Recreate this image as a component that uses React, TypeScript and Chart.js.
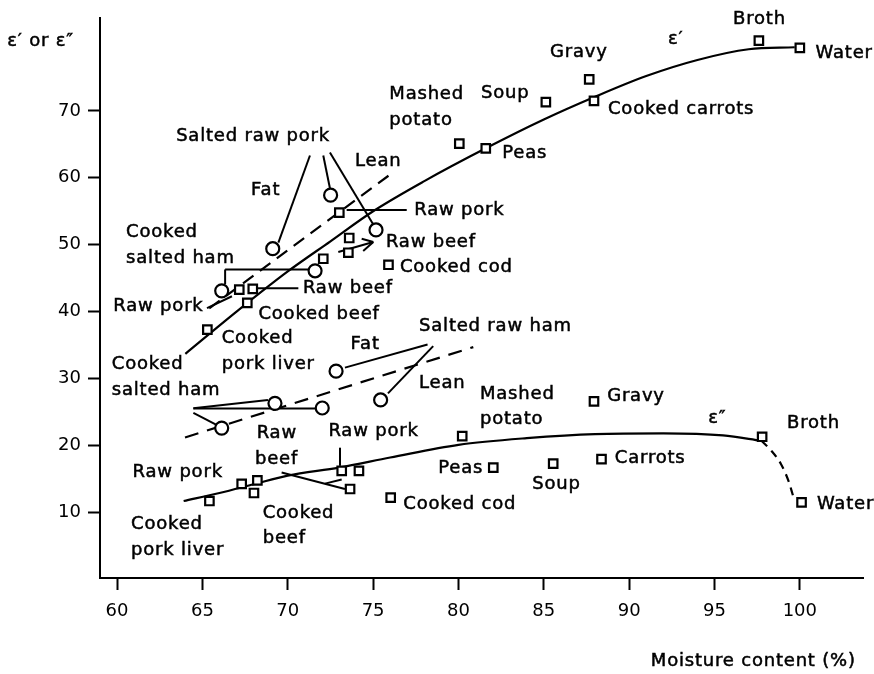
import React, { useEffect, useRef } from 'react';
import { Chart, registerables } from 'chart.js';

Chart.register(...registerables);

const FONT = '"DejaVu Sans", sans-serif';

const xTicks = [60, 65, 70, 75, 80, 85, 90, 95, 100];
const yTicks = [10, 20, 30, 40, 50, 60, 70];

// ε' — food samples (squares)
const ep1SquareX = [100.0, 97.6, 87.66, 87.94, 85.12, 80.05, 81.6, 73.02, 73.6, 73.55, 72.08, 75.9, 67.16, 67.95, 67.63, 65.29];
const ep1SquareY = [79.4, 80.5, 74.7, 71.5, 71.3, 65.1, 64.4, 54.8, 51.0, 48.8, 47.9, 47.0, 43.3, 43.4, 41.3, 37.3];
// ε' — salted samples (circles)
const ep1CircleX = [69.12, 72.51, 75.17, 71.6, 66.13];
const ep1CircleY = [49.4, 57.4, 52.2, 46.1, 43.1];

// ε'' — food samples (squares)
const ep2SquareX = [65.41, 67.3, 68.22, 68.02, 73.16, 74.17, 73.65, 76.03, 80.22, 82.04, 85.55, 87.94, 88.38, 97.79, 100.1];
const ep2SquareY = [11.7, 14.25, 14.8, 12.9, 16.2, 16.2, 13.5, 12.2, 21.4, 16.7, 17.3, 26.6, 17.95, 21.3, 11.5];
// ε'' — salted samples (circles)
const ep2CircleX = [72.83, 75.44, 69.25, 72.02, 66.13];
const ep2CircleY = [31.1, 26.8, 26.3, 25.6, 22.6];

// fitted curves
const ep1CurveX = [64.0, 67.0, 70.0, 72.5, 75.0, 78.0, 81.6, 85.0, 88.0, 91.0, 94.0, 97.0, 99.7];
const ep1CurveY = [33.7, 40.0, 46.0, 50.5, 55.0, 59.5, 64.4, 68.7, 72.1, 75.2, 77.6, 79.2, 79.5];
const ep1DashX = [65.4, 75.9];
const ep1DashY = [40.5, 60.3];

const ep2CurveX = [63.9, 66.0, 68.0, 70.0, 73.0, 76.0, 80.0, 84.0, 88.0, 92.0, 95.5, 97.75];
const ep2CurveY = [11.7, 12.9, 14.2, 15.5, 16.7, 18.2, 20.1, 21.1, 21.7, 21.8, 21.5, 20.7];
const ep2TailX = [97.75, 98.3, 98.9, 99.35, 99.6];
const ep2TailY = [20.7, 19.3, 17.2, 14.6, 12.5];
const ep2DashX = [63.98, 80.87];
const ep2DashY = [21.2, 34.7];

// annotation texts: [text, x (left), y (middle)] in data units
const labelItems: [string, number, number][] = [
  ['ε′ or ε″', 53.57, 80.33],
  ['Salted raw pork', 63.46, 66.13],
  ['Fat', 67.85, 58.1],
  ['Lean', 73.94, 62.4],
  ['Mashed', 75.95, 72.41],
  ['potato', 75.95, 68.56],
  ['Soup', 81.32, 72.62],
  ['Gravy', 85.36, 78.7],
  ['ε′', 92.27, 80.67],
  ['Broth', 96.09, 83.63],
  ['Water', 100.92, 78.59],
  ['Cooked carrots', 88.76, 70.19],
  ['Peas', 82.57, 63.63],
  ['Raw pork', 77.41, 55.14],
  ['Raw beef', 75.75, 50.3],
  ['Cooked cod', 76.57, 46.59],
  ['Cooked', 60.53, 51.78],
  ['salted ham', 60.53, 47.93],
  ['Raw beef', 70.89, 43.48],
  ['Raw pork', 59.78, 40.81],
  ['Cooked beef', 68.28, 39.53],
  ['Cooked', 66.13, 35.97],
  ['pork liver', 66.13, 32.12],
  ['Cooked', 59.69, 32.12],
  ['salted ham', 59.69, 28.18],
  ['Salted raw ham', 77.69, 37.85],
  ['Fat', 73.68, 35.08],
  ['Lean', 77.69, 29.3],
  ['Mashed', 81.26, 27.67],
  ['potato', 81.26, 23.88],
  ['Gravy', 88.71, 27.33],
  ['ε″', 94.63, 24.03],
  ['Broth', 99.25, 23.38],
  ['Carrots', 89.16, 18.04],
  ['Water', 101.0, 11.19],
  ['Peas', 78.82, 16.62],
  ['Soup', 84.32, 14.25],
  ['Cooked cod', 76.77, 11.19],
  ['Raw pork', 72.38, 22.15],
  ['Raw', 68.18, 21.75],
  ['beef', 68.08, 17.96],
  ['Raw pork', 60.91, 15.97],
  ['Cooked', 60.82, 8.22],
  ['pork liver', 60.82, 4.37],
  ['Cooked', 68.53, 9.81],
  ['beef', 68.53, 6.1],
  ['Moisture content (%)', 91.27, -12.27],
];

// leader lines: [x1, y1, x2, y2] in data units
const leaderLines: [number, number, number, number][] = [
  [71.3, 63.33, 69.45, 50.3],
  [72.08, 63.33, 72.47, 58.44],
  [72.47, 63.78, 75.01, 53.01],
  [73.45, 55.19, 76.97, 55.19],
  [72.96, 48.92, 75.01, 50.4],
  [74.33, 50.89, 75.01, 50.4],
  [74.42, 49.07, 75.01, 50.4],
  [66.33, 46.3, 71.19, 46.3],
  [66.33, 46.3, 66.33, 44.07],
  [68.18, 43.48, 70.62, 43.48],
  [65.27, 40.52, 66.73, 42.3],
  [73.35, 31.63, 78.19, 35.08],
  [75.87, 27.78, 78.52, 34.84],
  [64.47, 25.56, 68.84, 26.81],
  [64.47, 25.51, 71.6, 25.51],
  [64.47, 24.86, 65.8, 23.11],
  [73.06, 19.67, 73.06, 16.96],
  [69.64, 15.97, 73.35, 13.51],
  [72.18, 14.3, 73.16, 14.92],
];

const pts = (xs: number[], ys: number[]) => xs.map((v, i) => ({ x: v, y: ys[i] }));

const annotate = {
  id: 'annotate',
  beforeDatasetsDraw(chart: any) {
    const { ctx, scales } = chart;
    const sx = scales.x;
    const sy = scales.y;
    ctx.save();
    ctx.strokeStyle = '#000';
    ctx.lineWidth = 2;
    for (const [x1, y1, x2, y2] of leaderLines) {
      ctx.beginPath();
      ctx.moveTo(sx.getPixelForValue(x1), sy.getPixelForValue(y1));
      ctx.lineTo(sx.getPixelForValue(x2), sy.getPixelForValue(y2));
      ctx.stroke();
    }
    ctx.restore();
  },
  afterDraw(chart: any) {
    const { ctx, scales } = chart;
    const sx = scales.x;
    const sy = scales.y;
    ctx.save();
    ctx.fillStyle = '#000';
    ctx.strokeStyle = '#000';
    ctx.lineWidth = 0.5;
    ctx.font = `18px ${FONT}`;
    ctx.textAlign = 'left';
    ctx.textBaseline = 'middle';
    try { (ctx as any).letterSpacing = '0.8px'; } catch (e) {}
    for (const [t, x, y] of labelItems) {
      const px = sx.getPixelForValue(x);
      const py = sy.getPixelForValue(y);
      ctx.fillText(t, px, py);
      ctx.strokeText(t, px, py);
    }
    ctx.restore();
  },
};

export default function App() {
  const ref = useRef<HTMLCanvasElement | null>(null);
  useEffect(() => {
    if (!ref.current) return;
    const pointBase = {
      showLine: false,
      backgroundColor: '#fff',
      borderColor: '#000',
      borderWidth: 2.2,
      pointBorderWidth: 2.2,
    };
    const lineBase = {
      showLine: true,
      pointRadius: 0,
      borderColor: '#000',
      borderWidth: 2.2,
      fill: false,
    };
    const chart = new Chart(ref.current, {
      type: 'scatter',
      data: {
        datasets: [
          { ...pointBase, label: "ε' foods", data: pts(ep1SquareX, ep1SquareY), pointStyle: 'rect', pointRadius: 6 },
          { ...pointBase, label: "ε' salted", data: pts(ep1CircleX, ep1CircleY), pointStyle: 'circle', pointRadius: 6.5 },
          { ...pointBase, label: "ε'' foods", data: pts(ep2SquareX, ep2SquareY), pointStyle: 'rect', pointRadius: 6 },
          { ...pointBase, label: "ε'' salted", data: pts(ep2CircleX, ep2CircleY), pointStyle: 'circle', pointRadius: 6.5 },
          { ...lineBase, label: "ε' curve", data: pts(ep1CurveX, ep1CurveY), cubicInterpolationMode: 'monotone' },
          { ...lineBase, label: "ε' lean", data: pts(ep1DashX, ep1DashY), borderDash: [13, 8] },
          { ...lineBase, label: "ε'' curve", data: pts(ep2CurveX, ep2CurveY), cubicInterpolationMode: 'monotone' },
          { ...lineBase, label: "ε'' tail", data: pts(ep2TailX, ep2TailY), cubicInterpolationMode: 'monotone', borderDash: [8, 6] },
          { ...lineBase, label: "ε'' ham", data: pts(ep2DashX, ep2DashY), borderDash: [14, 9] },
        ] as any,
      },
      options: {
        animation: false,
        responsive: false,
        maintainAspectRatio: false,
        layout: { padding: { top: 13, right: 11, left: 0, bottom: 0 } },
        plugins: { legend: { display: false }, tooltip: { enabled: false } },
        scales: {
          x: {
            type: 'linear',
            min: 59,
            max: 103.7,
            afterBuildTicks: (s: any) => { s.ticks = xTicks.map((v) => ({ value: v })); },
            afterFit: (s: any) => { s.height = 96; },
            grid: { drawOnChartArea: false, drawTicks: true, tickLength: 12, tickColor: '#000', tickWidth: 2 },
            border: { display: true, color: '#000', width: 2 },
            ticks: { color: '#000', font: { family: FONT, size: 18 }, padding: 11, maxRotation: 0, autoSkip: false },
          },
          y: {
            type: 'linear',
            min: 0.2,
            max: 83.9,
            afterBuildTicks: (s: any) => { s.ticks = yTicks.map((v) => ({ value: v })); },
            afterFit: (s: any) => { s.width = 100; },
            grid: { drawOnChartArea: false, drawTicks: true, tickLength: 12, tickColor: '#000', tickWidth: 2 },
            border: { display: true, color: '#000', width: 2 },
            ticks: { color: '#000', font: { family: FONT, size: 18 }, padding: 7, autoSkip: false },
          },
        },
      } as any,
      plugins: [annotate],
    });
    return () => chart.destroy();
  }, []);
  return (
    <div style={{ position: 'fixed', left: 0, top: 0, width: 874, height: 674, background: '#fff' }}>
      <canvas ref={ref} width={874} height={674} style={{ width: 874, height: 674, display: 'block' }} />
    </div>
  );
}
